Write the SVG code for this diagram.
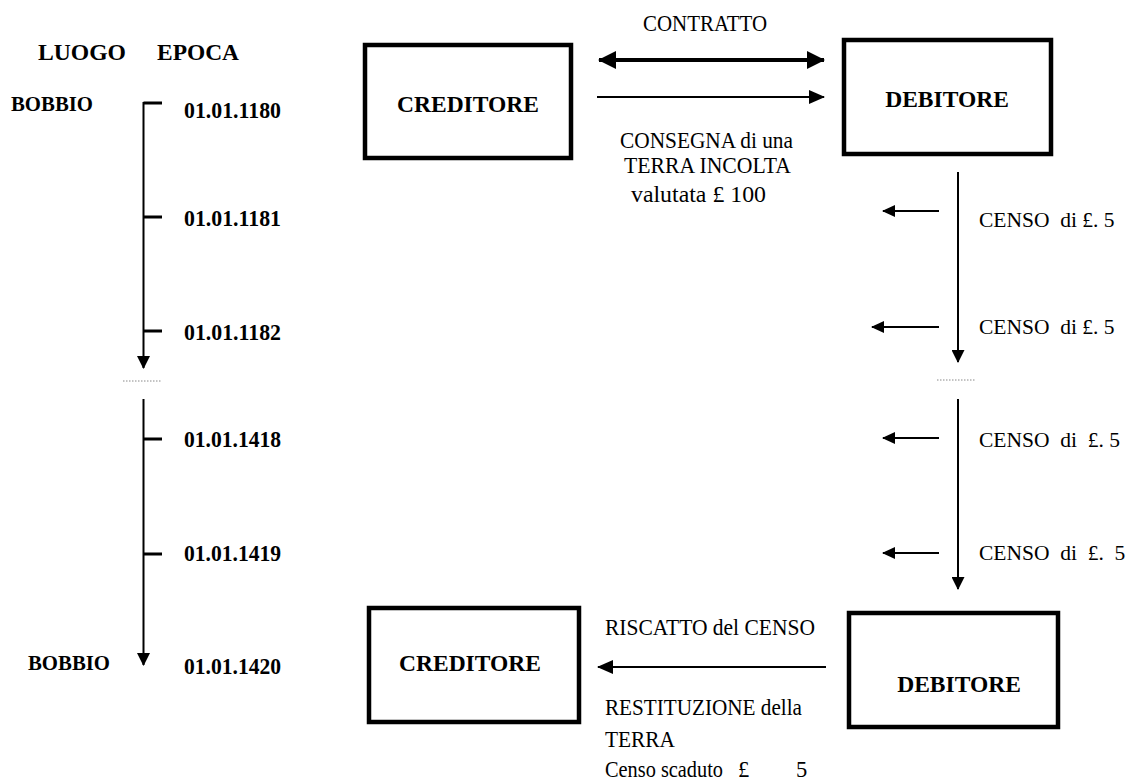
<svg xmlns="http://www.w3.org/2000/svg" width="1128" height="783" viewBox="0 0 1128 783">
  <style>
    text { font-family: "Liberation Serif", "Times New Roman", serif; fill: #000; }
    .hd { font-weight: bold; font-size: 24px; }
    .place { font-weight: bold; font-size: 21px; }
    .date { font-weight: bold; font-size: 23px; }
    .box-label { font-weight: bold; font-size: 23.5px; }
    .lbl { font-size: 22.5px; }
    .censo { font-size: 21.5px; white-space: pre; }
    .box { fill: #fff; stroke: #000; stroke-width: 4.5; }
    .axis { stroke: #000; stroke-width: 2; fill: none; }
    .tick { stroke: #000; stroke-width: 3; fill: none; }
    .thin { stroke: #000; stroke-width: 2; fill: none; }
    .thick { stroke: #000; stroke-width: 4; fill: none; }
    .gap { stroke: #888; stroke-width: 1; stroke-dasharray: 1.5 1.5; fill: none; }
  </style>
  <defs>
    <marker id="ah" markerUnits="userSpaceOnUse" viewBox="0 0 13 12" refX="12" refY="6" markerWidth="13" markerHeight="12" orient="auto">
      <path d="M0,0 L13,6 L0,12 Z" fill="#000"/>
    </marker>
    <marker id="ahv" markerUnits="userSpaceOnUse" viewBox="0 0 13 13" refX="12" refY="6.5" markerWidth="13" markerHeight="13" orient="auto">
      <path d="M0,0 L13,6.5 L0,13 Z" fill="#000"/>
    </marker>
    <marker id="ahBig" markerUnits="userSpaceOnUse" viewBox="0 0 18 18" refX="17" refY="9" markerWidth="18" markerHeight="18" orient="auto-start-reverse">
      <path d="M0,0 L18,9 L0,18 Z" fill="#000"/>
    </marker>
    <marker id="ahMid" markerUnits="userSpaceOnUse" viewBox="0 0 16 14" refX="15" refY="7" markerWidth="16" markerHeight="14" orient="auto">
      <path d="M0,0 L16,7 L0,14 Z" fill="#000"/>
    </marker>
  </defs>

  <!-- column headings -->
  <g id="headings">
    <text class="hd" x="38" y="60" textLength="88" lengthAdjust="spacingAndGlyphs">LUOGO</text>
    <text class="hd" x="157" y="60" textLength="82" lengthAdjust="spacingAndGlyphs">EPOCA</text>
  </g>

  <!-- timeline of places and dates -->
  <g id="timeline">
    <text class="place" x="11" y="111" textLength="82" lengthAdjust="spacingAndGlyphs">BOBBIO</text>
    <text class="place" x="28" y="670" textLength="82" lengthAdjust="spacingAndGlyphs">BOBBIO</text>
    <text class="date" x="184" y="118" textLength="97" lengthAdjust="spacingAndGlyphs">01.01.1180</text>
    <text class="date" x="184" y="226" textLength="97" lengthAdjust="spacingAndGlyphs">01.01.1181</text>
    <text class="date" x="184" y="340" textLength="97" lengthAdjust="spacingAndGlyphs">01.01.1182</text>
    <text class="date" x="184" y="447" textLength="97" lengthAdjust="spacingAndGlyphs">01.01.1418</text>
    <text class="date" x="184" y="561" textLength="97" lengthAdjust="spacingAndGlyphs">01.01.1419</text>
    <text class="date" x="184" y="674" textLength="97" lengthAdjust="spacingAndGlyphs">01.01.1420</text>
    <path class="tick" d="M143.5,103 H162 M143.5,217 H162 M143.5,331 H162 M143.5,439 H162 M143.5,554 H162"/>
    <line class="axis" x1="143.5" y1="102" x2="143.5" y2="368" marker-end="url(#ahv)"/>
    <line class="gap" x1="123" y1="381" x2="161" y2="381"/>
    <line class="axis" x1="143.5" y1="399" x2="143.5" y2="665" marker-end="url(#ahv)"/>
  </g>

  <!-- parties at the start -->
  <g id="creditore-1180">
    <rect class="box" x="365" y="45" width="206" height="113"/>
    <text class="box-label" x="468" y="112" text-anchor="middle">CREDITORE</text>
  </g>
  <g id="debitore-1180">
    <rect class="box" x="844" y="40" width="207" height="114"/>
    <text class="box-label" x="947" y="107" text-anchor="middle">DEBITORE</text>
  </g>

  <!-- parties at the end -->
  <g id="creditore-1420">
    <rect class="box" x="369" y="608" width="210" height="114"/>
    <text class="box-label" x="470" y="671" text-anchor="middle">CREDITORE</text>
  </g>
  <g id="debitore-1420">
    <rect class="box" x="849" y="613" width="209" height="114"/>
    <text class="box-label" x="959" y="692" text-anchor="middle">DEBITORE</text>
  </g>

  <!-- connectors -->
  <g id="connectors">
    <line class="thick" x1="599" y1="60" x2="824" y2="60" marker-start="url(#ahBig)" marker-end="url(#ahBig)"/>
    <line class="thin" x1="597" y1="97" x2="824" y2="97" marker-end="url(#ahMid)"/>

    <line class="axis" x1="958" y1="172" x2="958" y2="362" marker-end="url(#ahv)"/>
    <line class="gap" x1="937" y1="380" x2="975" y2="380"/>
    <line class="axis" x1="958" y1="399" x2="958" y2="589" marker-end="url(#ahv)"/>

    <line class="thin" x1="939" y1="211" x2="883" y2="211" marker-end="url(#ah)"/>
    <line class="thin" x1="939" y1="327" x2="872" y2="327" marker-end="url(#ah)"/>
    <line class="thin" x1="939" y1="438" x2="883" y2="438" marker-end="url(#ah)"/>
    <line class="thin" x1="939" y1="553" x2="883" y2="553" marker-end="url(#ah)"/>

    <line class="thin" x1="826" y1="667" x2="598" y2="667" marker-end="url(#ahMid)"/>
  </g>

  <!-- connector labels -->
  <g id="labels">
    <text class="lbl" x="643" y="31" textLength="124" lengthAdjust="spacingAndGlyphs">CONTRATTO</text>
    <text class="lbl" x="620" y="148" textLength="173" lengthAdjust="spacingAndGlyphs">CONSEGNA di una</text>
    <text class="lbl" x="624" y="173" textLength="167" lengthAdjust="spacingAndGlyphs">TERRA INCOLTA</text>
    <text class="lbl" x="631" y="202" textLength="135" lengthAdjust="spacingAndGlyphs">valutata £ 100</text>

    <text class="censo" x="979" y="227">CENSO  di £. 5</text>
    <text class="censo" x="979" y="334">CENSO  di £. 5</text>
    <text class="censo" x="979" y="447">CENSO  di  £. 5</text>
    <text class="censo" x="979" y="560">CENSO  di  £.  5</text>

    <text class="lbl" x="605" y="635" textLength="210" lengthAdjust="spacingAndGlyphs">RISCATTO del CENSO</text>
    <text class="lbl" x="605" y="715" textLength="197" lengthAdjust="spacingAndGlyphs">RESTITUZIONE della</text>
    <text class="lbl" x="605" y="747" textLength="70" lengthAdjust="spacingAndGlyphs">TERRA</text>
    <text class="lbl" x="605" y="777" textLength="118" lengthAdjust="spacingAndGlyphs">Censo scaduto</text>
    <text class="lbl" x="738" y="777">£</text>
    <text class="lbl" x="796" y="777">5</text>
  </g>
</svg>
